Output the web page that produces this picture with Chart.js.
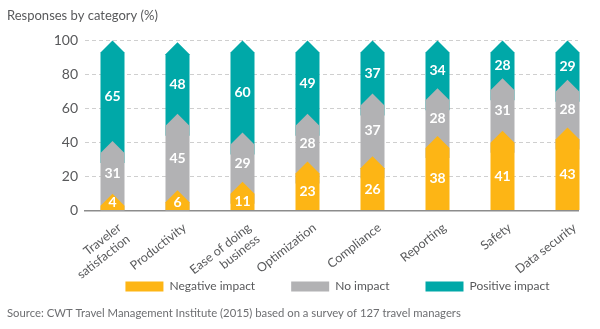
<!DOCTYPE html>
<html>
<head>
<meta charset="utf-8">
<script src="https://cdn.jsdelivr.net/npm/chart.js@4"></script>
<style>
html, body { margin: 0; padding: 0; background: #fff; }
#wrap { width: 600px; height: 329px; }
</style>
</head>
<body>
<div id="wrap"><canvas id="chart"></canvas></div>
<script>
// data
const categories = [['Traveler', 'satisfaction'], 'Productivity', ['Ease of doing', 'business'], 'Optimization', 'Compliance', 'Reporting', 'Safety', 'Data security'];
const negativeImpact = [4, 6, 11, 23, 26, 38, 41, 43];
const noImpact = [31, 45, 29, 28, 37, 28, 31, 28];
const positiveImpact = [65, 48, 60, 49, 37, 34, 28, 29];
const yTickLabels = [0, 20, 40, 60, 80, 100];
const seriesNames = ['Negative impact', 'No impact', 'Positive impact'];
const seriesColors = ['#fdb515', '#b2b2b4', '#00a8a8'];

const FONT = 'Lato, "Open Sans", sans-serif';
const TEXT = '#58595b';

const toPoints = arr => arr.map((v, i) => ({ x: i, y: v }));

// arrow-shaped segments: pointed top, notch filled by the segment below
const arrowBars = {
    id: 'arrowBars',
    beforeDatasetDraw(chart, args) {
        const ctx = chart.ctx;
        const last = chart.data.datasets.length - 1;
        const idx = args.index;
        const zero = chart.scales.y.getPixelForValue(0);
        ctx.save();
        ctx.fillStyle = chart.data.datasets[idx].backgroundColor;
        args.meta.data.forEach(el => {
            const { x, y, base, width } = el.getProps(['x', 'y', 'base', 'width'], true);
            const left = x - width / 2;
            const right = x + width / 2;
            const shoulder = idx === last ? y + 12 : y + 2;
            const peak = idx === last ? y : y - 10;
            const bottom = idx === 0 ? base : Math.min(base + 12, zero);
            ctx.beginPath();
            ctx.moveTo(left, bottom);
            ctx.lineTo(left, shoulder);
            ctx.lineTo(x, peak);
            ctx.lineTo(right, shoulder);
            ctx.lineTo(right, bottom);
            ctx.closePath();
            ctx.fill();
        });
        ctx.restore();
        return false;
    }
};

const valueLabels = {
    id: 'valueLabels',
    afterDatasetsDraw(chart) {
        const ctx = chart.ctx;
        const last = chart.data.datasets.length - 1;
        ctx.save();
        ctx.fillStyle = '#fff';
        ctx.font = 'bold 14px ' + FONT;
        ctx.textAlign = 'center';
        ctx.textBaseline = 'middle';
        chart.data.datasets.forEach((ds, i) => {
            const meta = chart.getDatasetMeta(i);
            meta.data.forEach((el, j) => {
                const { x, y, base } = el.getProps(['x', 'y', 'base'], true);
                const lo = i === 0 ? base : base - 10;
                const hi = i === last ? y + 12 : y + 2;
                let cy = (lo + hi) / 2;
                if (i === 0) cy = Math.min(cy, base - 7);
                ctx.fillText(ds.data[j].y, x, cy);
            });
        });
        ctx.restore();
    }
};

// labels.padding sets the gap between legend items but also the space above the row;
// pull the box's top edge up so the row sits just under the axis labels, and centre it under the bars
const legendPlace = {
    id: 'legendPlace',
    afterLayout(chart) {
        const lg = chart.legend;
        const dy = lg.options.labels.padding - 2;
        const dx = (chart.chartArea.left + chart.chartArea.right) / 2 + 6 - (lg.left + lg.right) / 2;
        lg.top -= dy;
        lg.left += dx;
        lg.right += dx;
    }
};

new Chart(document.getElementById('chart'), {
    type: 'bar',
    data: {
        datasets: [
            { label: seriesNames[0], data: toPoints(negativeImpact), backgroundColor: seriesColors[0] },
            { label: seriesNames[1], data: toPoints(noImpact), backgroundColor: seriesColors[1] },
            { label: seriesNames[2], data: toPoints(positiveImpact), backgroundColor: seriesColors[2] }
        ]
    },
    options: {
        responsive: true,
        maintainAspectRatio: false,
        animation: false,
        barThickness: 24,
        borderWidth: 0,
        layout: { padding: { left: 7, right: 22, top: 0, bottom: 0 } },
        scales: {
            x: {
                type: 'linear',
                stacked: true,
                offset: false,
                min: -0.4231,
                max: 7.1615,
                grid: { display: false, offset: false },
                border: { display: true, color: '#8c8c8c', width: 1.5 },
                afterFit: s => { s.height = 68; },
                ticks: {
                    stepSize: 1,
                    includeBounds: false,
                    autoSkip: false,
                    minRotation: 38,
                    maxRotation: 38,
                    labelOffset: 7,
                    padding: 2,
                    color: TEXT,
                    font: { family: FONT, size: 12.5, lineHeight: 1.15 },
                    callback: v => categories[v] ?? ''
                }
            },
            y: {
                stacked: true,
                min: 0,
                max: 100,
                afterFit: s => { s.width = 78; },
                grid: { color: '#cfcfcf', drawTicks: false, lineWidth: 1 },
                border: { display: false, dash: [4, 3] },
                ticks: {
                    stepSize: 10,
                    padding: 7,
                    color: TEXT,
                    font: { family: FONT, size: 14 },
                    callback: v => yTickLabels.includes(v) ? v : ''
                }
            }
        },
        plugins: {
            title: {
                display: true,
                text: 'Responses by category (%)',
                align: 'start',
                color: TEXT,
                font: { family: FONT, size: 13, weight: 'normal' },
                padding: { top: 8, bottom: 17 }
            },
            subtitle: {
                display: true,
                position: 'bottom',
                text: 'Source: CWT Travel Management Institute (2015) based on a survey of 127 travel managers',
                align: 'start',
                color: '#6d6e71',
                font: { family: FONT, size: 11.3 },
                padding: { top: 4, bottom: 9 }
            },
            legend: {
                position: 'bottom',
                maxHeight: 24,
                labels: {
                    boxWidth: 38,
                    boxHeight: 10,
                    padding: 36,
                    color: TEXT,
                    font: { family: FONT, size: 12 }
                }
            },
            tooltip: { enabled: false }
        }
    },
    plugins: [arrowBars, valueLabels, legendPlace]
});
</script>
</body>
</html>
